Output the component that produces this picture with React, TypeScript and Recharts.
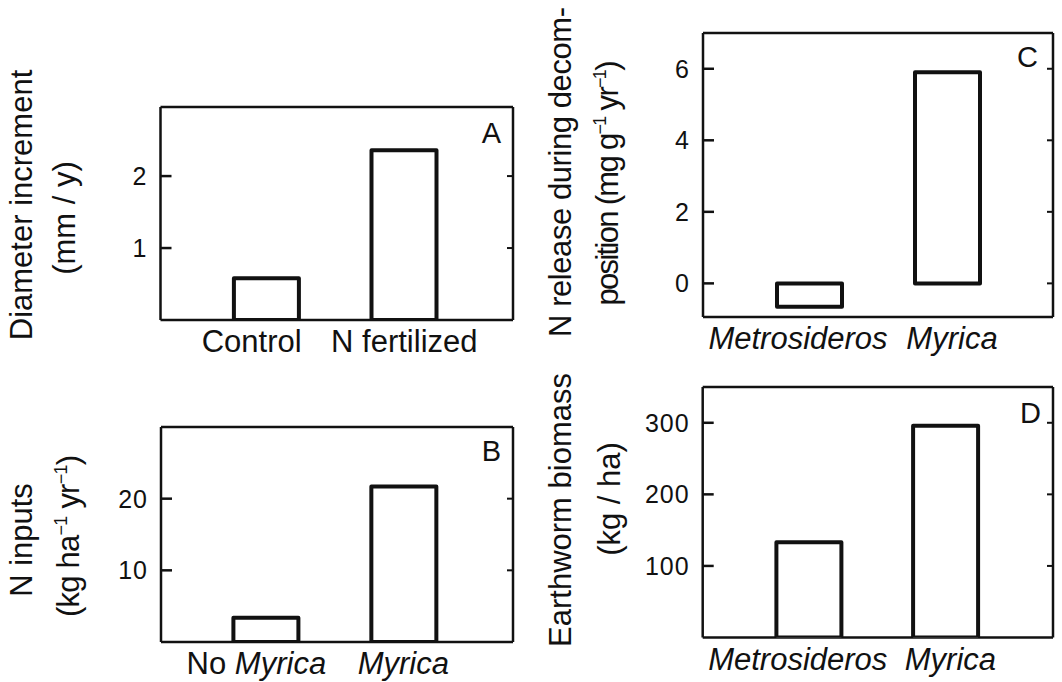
import React from 'react';
import { BarChart, Bar, XAxis, YAxis, CartesianGrid } from 'recharts';

const FONT = '"Liberation Sans", Arial, sans-serif';
const INK = '#111';
const ITALIC_WORDS = ['Myrica', 'Metrosideros'];

// A: diameter increment
const diameterCategories = ['Control', 'N fertilized'];
const diameterValues = [0.58, 2.36];
const diameterTicks = [1, 2];

// B: N inputs
const inputCategories = ['No Myrica', 'Myrica'];
const inputValues = [3.4, 21.7];
const inputTicks = [10, 20];

// C: N release during decomposition
const releaseCategories = ['Metrosideros', 'Myrica'];
const releaseValues = [-0.65, 5.9];
const releaseTicks = [0, 2, 4, 6];

// D: earthworm biomass
const wormCategories = ['Metrosideros', 'Myrica'];
const wormValues = [133, 296];
const wormTicks = [100, 200, 300];

type Part = string | { sup: string };
type TitleLine = { x: number; y: number; parts: Part[]; length?: number };
type Frame = {
  x: number; y: number; w: number; h: number;
  left: number; right: number; top: number; bottom: number;
  padL: number; padR: number;
  letterDx: number; letterDy: number;
  labelShift: number[];
};

function TitleText({ line }: { line: TitleLine }) {
  const nodes: React.ReactNode[] = [];
  let raised = false;
  line.parts.forEach((p, i) => {
    if (typeof p === 'string') {
      nodes.push(<tspan key={i} dy={raised ? 12 : undefined}>{p}</tspan>);
      raised = false;
    } else {
      nodes.push(<tspan key={i} fontSize={18} dy={raised ? 0 : -12}>{p.sup}</tspan>);
      raised = true;
    }
  });
  return (
    <text
      x={line.x}
      y={line.y}
      transform={`rotate(-90 ${line.x} ${line.y})`}
      textAnchor="middle"
      fontSize={31}
      fontFamily={FONT}
      fill={INK}
      textLength={line.length}
      lengthAdjust={line.length ? 'spacing' : undefined}
    >
      {nodes}
    </text>
  );
}

interface PanelProps {
  frame: Frame;
  categories: string[];
  values: number[];
  ticks: number[];
  domain: [number, number];
  letter: string;
  titles: TitleLine[];
}

function Panel({ frame, categories, values, ticks, domain, letter, titles }: PanelProps) {
  const data = categories.map((name, i) => ({ name, value: values[i] }));

  const valueTick = (props: any) => {
    const { x, y, payload } = props;
    const axisX = frame.left;
    return (
      <g>
        <line x1={axisX} x2={axisX + 11} y1={y} y2={y} stroke={INK} strokeWidth={2.5} />
        <line x1={frame.right - 6} x2={frame.right} y1={y} y2={y} stroke={INK} strokeWidth={2} />
        <text x={x} y={y + 9} textAnchor="end" fontSize={25} letterSpacing={1} fontFamily={FONT} fill={INK}>
          {payload.value}
        </text>
      </g>
    );
  };

  const categoryTick = (props: any) => {
    const { x, y, payload, index } = props;
    const words = String(payload.value).split(' ');
    return (
      <text
        x={x + (frame.labelShift[index] ?? 0)}
        y={y + 32}
        textAnchor="middle"
        fontSize={31}
        fontFamily={FONT}
        fill={INK}
      >
        {words.map((w, i) => (
          <tspan key={i} fontStyle={ITALIC_WORDS.includes(w) ? 'italic' : 'normal'}>
            {(i > 0 ? ' ' : '') + w}
          </tspan>
        ))}
      </text>
    );
  };

  return (
    <>
      <div style={{ position: 'absolute', left: frame.x, top: frame.y }}>
        <BarChart
          width={frame.w}
          height={frame.h}
          data={data}
          margin={{ top: frame.top, right: frame.w - frame.right, bottom: 0, left: 0 }}
        >
          <CartesianGrid
            stroke={INK}
            strokeWidth={2.5}
            horizontalCoordinatesGenerator={({ offset }: any) => [offset.top, offset.top + offset.height]}
            verticalCoordinatesGenerator={({ offset }: any) => [offset.left, offset.left + offset.width]}
          />
          <XAxis
            dataKey="name"
            height={frame.h - frame.bottom}
            padding={{ left: frame.padL, right: frame.padR }}
            axisLine={false}
            tickLine={false}
            tickSize={0}
            tickMargin={0}
            interval={0}
            tick={categoryTick}
          />
          <YAxis
            type="number"
            domain={domain}
            ticks={ticks}
            allowDataOverflow
            width={frame.left}
            axisLine={false}
            tickLine={false}
            tickSize={0}
            tickMargin={13}
            interval={0}
            tick={valueTick}
          />
          <Bar
            dataKey="value"
            fill="#fff"
            stroke={INK}
            strokeWidth={4}
            strokeLinejoin="round"
            barSize={65}
            isAnimationActive={false}
          />
        </BarChart>
      </div>
      <svg
        width={frame.w}
        height={frame.h}
        style={{ position: 'absolute', left: frame.x, top: frame.y, pointerEvents: 'none' }}
      >
        {titles.map((t, i) => (
          <TitleText key={i} line={t} />
        ))}
        <text
          x={frame.right - frame.letterDx}
          y={frame.top + frame.letterDy}
          textAnchor="end"
          fontSize={29}
          fontFamily={FONT}
          fill={INK}
        >
          {letter}
        </text>
      </svg>
    </>
  );
}

const frameA: Frame = { x: 0, y: 0, w: 531, h: 370, left: 160.5, right: 513, top: 107, bottom: 320, padL: 37.4, padR: 39.9, letterDx: 12, letterDy: 36, labelShift: [-15, 0] };
const frameB: Frame = { x: 0, y: 341, w: 531, h: 341, left: 161, right: 513, top: 86, bottom: 301, padL: 36.4, padR: 39.7, letterDx: 12, letterDy: 34, labelShift: [-10, -1] };
const frameC: Frame = { x: 531, y: 0, w: 531, h: 370, left: 172, right: 522, top: 33, bottom: 317, padL: 37, padR: 37, letterDx: 15, letterDy: 34, labelShift: [-11, 5] };
const frameD: Frame = { x: 531, y: 341, w: 531, h: 341, left: 171.7, right: 522, top: 46, bottom: 296.5, padL: 37.7, padR: 39.2, letterDx: 12, letterDy: 36, labelShift: [-11, 5] };

export default function App() {
  return (
    <div style={{ position: 'absolute', left: 0, top: 0, width: 1062, height: 682, background: '#fff', overflow: 'hidden' }}>
      <Panel
        frame={frameA}
        categories={diameterCategories}
        values={diameterValues}
        ticks={diameterTicks}
        domain={[0, 2.96]}
        letter="A"
        titles={[
          { x: 32, y: 205, parts: ['Diameter increment'] },
          { x: 75, y: 218, parts: ['(mm / y)'] },
        ]}
      />
      <Panel
        frame={frameB}
        categories={inputCategories}
        values={inputValues}
        ticks={inputTicks}
        domain={[0, 30]}
        letter="B"
        titles={[
          { x: 32, y: 199, parts: ['N inputs'] },
          { x: 79, y: 195, parts: ['(kg ha', { sup: '−1' }, ' yr', { sup: '−1' }, ')'], length: 162 },
        ]}
      />
      <Panel
        frame={frameC}
        categories={releaseCategories}
        values={releaseValues}
        ticks={releaseTicks}
        domain={[-0.94, 7]}
        letter="C"
        titles={[
          { x: 40, y: 172, parts: ['N release during decom-'], length: 330 },
          { x: 87, y: 183, parts: ['position (mg g', { sup: '−1' }, ' yr', { sup: '−1' }, ')'], length: 245 },
        ]}
      />
      <Panel
        frame={frameD}
        categories={wormCategories}
        values={wormValues}
        ticks={wormTicks}
        domain={[0, 350]}
        letter="D"
        titles={[
          { x: 40, y: 169, parts: ['Earthworm biomass'] },
          { x: 89, y: 158, parts: ['(kg / ha)'] },
        ]}
      />
    </div>
  );
}
